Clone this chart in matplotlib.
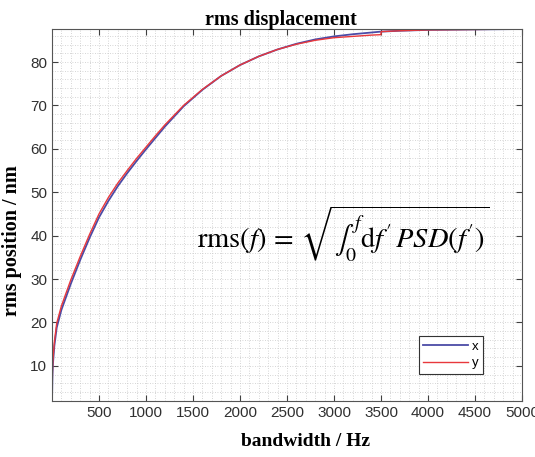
import matplotlib.pyplot as plt
from matplotlib.ticker import AutoMinorLocator

# bandwidth (Hz) and rms position (nm)
bw_x = [0, 5, 10, 25, 50, 100, 200, 300, 400, 500, 600, 700, 800, 900,
        1000, 1100, 1200, 1400, 1600, 1800, 2000, 2200, 2400, 2600, 2800,
        3000, 3200, 3400, 3500, 3700, 4000, 4500, 5000]
rms_x = [1.9, 8.0, 10.5, 14.6, 18.8, 22.9, 28.9, 34.4, 39.5, 44.2, 48.0, 51.4,
         54.4, 57.2, 59.9, 62.5, 65.1, 69.8, 73.6, 76.8, 79.3, 81.3, 82.9,
         84.2, 85.2, 85.9, 86.4, 86.8, 87.0, 87.2, 87.4, 87.5, 87.6]

bw_y = [0, 5, 10, 25, 50, 100, 200, 300, 400, 500, 600, 700, 800, 900,
        1000, 1100, 1200, 1400, 1600, 1800, 2000, 2200, 2400, 2600, 2800,
        3000, 3200, 3400, 3499, 3501, 3700, 4000, 4500, 5000]
rms_y = [1.9, 9.0, 11.5, 15.5, 19.8, 23.8, 29.8, 35.2, 40.3, 45.0, 48.8, 52.1,
         55.0, 57.8, 60.4, 63.0, 65.5, 70.0, 73.7, 76.8, 79.3, 81.3, 82.9,
         84.1, 85.0, 85.6, 85.9, 86.2, 86.3, 87.0, 87.2, 87.4, 87.5, 87.6]

xticks = [500, 1000, 1500, 2000, 2500, 3000, 3500, 4000, 4500, 5000]
yticks = [10, 20, 30, 40, 50, 60, 70, 80]

plt.rcParams['mathtext.fontset'] = 'stix'

fig = plt.figure(figsize=(5.35, 4.57), dpi=100)
ax = fig.add_axes([0.0972, 0.1225, 0.8785, 0.814])

ax.plot(bw_x, rms_x, color="#4b4ba6", linewidth=1.3, label="x")
ax.plot(bw_y, rms_y, color="#e8383c", linewidth=1.0, label="y")

ax.set_xlim(0, 5000)
ax.set_ylim(1.9, 87.6)
ax.set_xticks(xticks)
ax.set_yticks(yticks)
ax.xaxis.set_minor_locator(AutoMinorLocator(5))
ax.yaxis.set_minor_locator(AutoMinorLocator(5))
ax.grid(which="both", linestyle=(0, (1, 2)), color="#c8c8c8", linewidth=0.6)
ax.set_axisbelow(True)
ax.tick_params(which="major", direction="in", length=4, top=True, right=True,
               labelsize=11, labelcolor="#303030", color="#404040")
ax.tick_params(which="minor", length=0)
for lbl in ax.get_xticklabels() + ax.get_yticklabels():
    lbl.set_family("Liberation Sans")
for s in ax.spines.values():
    s.set_color("#555555")
    s.set_linewidth(0.8)

ax.set_title("rms displacement", family="Liberation Serif", fontweight="bold",
             fontsize=14.5, pad=3, x=0.487)
ax.set_xlabel("bandwidth / Hz", family="Liberation Serif", fontweight="bold",
              fontsize=14, labelpad=10)
ax.xaxis.set_label_coords(0.54, -0.085)
ax.set_ylabel("rms position / nm", family="Liberation Serif", fontweight="bold",
              fontsize=14.5)
ax.yaxis.set_label_coords(-0.064, 0.43)

ax.text(0.308, 0.45, r"$\mathrm{rms}(f)\,=\,\sqrt{\int_0^{f}\mathrm{d}f'\,PSD(f')}$",
        transform=ax.transAxes, fontsize=20.4, va="center", ha="left")

leg = ax.legend(loc="lower right", bbox_to_anchor=(0.918, 0.073),
                prop={"family": "Liberation Sans", "size": 9.5},
                fancybox=False, framealpha=1, edgecolor="#333333",
                handlelength=3.4, handletextpad=0.3, borderpad=0.35,
                labelspacing=0.3, borderaxespad=0)
leg.get_frame().set_linewidth(0.8)

fig.savefig("out.png", dpi=100)
